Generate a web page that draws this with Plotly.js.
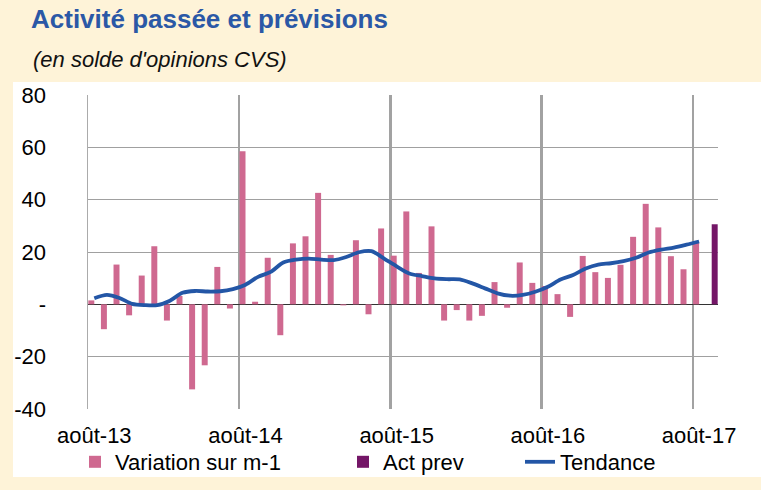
<!DOCTYPE html>
<html>
<head>
<meta charset="utf-8">
<script src="https://cdn.plot.ly/plotly-3.0.1.min.js"></script>
<style>html,body{margin:0;padding:0;background:#FEF3D8;}#chart{width:761px;height:490px;}</style>
</head>
<body>
<div id="chart"></div>
<script>
// Monthly categories from août-13 to sept-17 (index 0..49)
const tickLabels = ['août-13', 'août-14', 'août-15', 'août-16', 'août-17'];
const tickIndex = [0, 12, 24, 36, 48];
const yTickVals = [-40, -20, 0, 20, 40, 60, 80];
const yTickText = ['-40', '-20', '-', '20', '40', '60', '80'];

// Variation sur m-1 (août-13 .. août-17)
const variation = [1.5, -9.5, 15.2, -4.2, 11.0, 22.2, -6.2, 3.2, -32.5, -23.3, 14.3, -1.6,
  58.5, 1.0, 17.8, -11.8, 23.3, 26.0, 42.6, 18.9, -0.4, 24.5, -3.8, 29.0,
  18.6, 35.5, 12.0, 29.8, -6.2, -2.2, -6.2, -4.4, 8.5, -1.3, 16.0, 8.2,
  7.0, 3.9, -4.8, 18.5, 12.3, 10.1, 15.1, 25.8, 38.4, 29.4, 18.4, 13.4,
  23.5];
// Act prev (sept-17)
const actPrev = [30.6];
const actPrevIndex = [49];
// Tendance (août-13 .. août-17)
const tendance = [2.3, 3.6, 2.4, 0.2, -0.3, -0.3, 1.4, 4.4, 5.1, 4.9, 5.0, 5.8,
  7.5, 10.5, 12.4, 16.0, 17.1, 17.5, 17.1, 16.9, 18.1, 19.9, 20.3, 17.5,
  14.5, 11.8, 10.8, 9.9, 9.6, 9.5, 8.0, 6.1, 4.2, 3.3, 3.6, 4.8,
  6.7, 9.5, 11.2, 13.7, 15.2, 15.7, 16.5, 17.8, 19.8, 20.9, 21.7, 22.8,
  24.0];

const idx = variation.map((_, i) => i);
const FONT = 'Liberation Sans, Arial, sans-serif';

const traces = [
  {type: 'bar', name: 'Variation sur m-1', x: idx, y: variation, offsetgroup: 'a',
   marker: {color: '#CF6990', line: {width: 0}}, legend: 'legend'},
  {type: 'bar', name: 'Act prev', x: actPrevIndex, y: actPrev, offsetgroup: 'b',
   marker: {color: '#741667', line: {width: 0}}, legend: 'legend2'},
  {type: 'scatter', mode: 'lines', name: 'Tendance', x: idx, y: tendance,
   line: {color: '#2356A6', width: 3.8, shape: 'spline', smoothing: 0.8}, legend: 'legend3'}
];

// plot area: x 88..718, y 95..409
const L = 88, R = 718, T = 95, B = 409;
const W = R - L, H = B - T;
const px = v => (v - L) / W;
const py = v => (B - v) / H;

const legendBase = {orientation: 'h', yanchor: 'middle', xanchor: 'left',
  xref: 'container', yref: 'container', y: 1 - 462 / 490,
  bgcolor: 'rgba(0,0,0,0)', font: {family: FONT, size: 22, color: '#000'}};

const layout = {
  width: 761, height: 490,
  margin: {l: L, r: 761 - R, t: T, b: 490 - B, pad: 0},
  paper_bgcolor: '#FEF3D8',
  plot_bgcolor: '#FFFFFF',
  barmode: 'group', bargap: 0.05, bargroupgap: 0,
  showlegend: true,
  title: {text: 'Activité passée et prévisions', font: {family: FONT, size: 26, color: '#2B58A6', weight: 'bold'},
    xref: 'container', yref: 'container', x: 31 / 761, xanchor: 'left', y: 1 - 19 / 490, yanchor: 'middle'},
  annotations: [{text: "<i>(en solde d'opinions CVS)</i>", showarrow: false, xref: 'paper', yref: 'paper',
    x: px(31), xanchor: 'left', y: py(60), yanchor: 'middle', font: {family: FONT, size: 22, color: '#111'}}],
  shapes: [{type: 'rect', xref: 'paper', yref: 'paper', x0: px(13), x1: px(761), y0: py(477), y1: py(82),
    fillcolor: '#FFFFFF', line: {width: 0}, layer: 'below'}],
  xaxis: {range: [-0.5, 49.5], tickmode: 'array', tickvals: tickIndex, ticktext: tickLabels,
    showgrid: false, zeroline: false, showline: false, ticks: '', ticklabelstandoff: 11,
    automargin: false,
    tickfont: {family: FONT, size: 22, color: '#000'},
    minor: {tickmode: 'array', tickvals: tickIndex.slice(1).map(v => v - 0.5), showgrid: true,
      gridcolor: '#A2A2A2', gridwidth: 2.2, ticks: ''}},
  yaxis: {range: [-40, 80], tickmode: 'array', tickvals: yTickVals, ticktext: yTickText,
    showgrid: true, gridcolor: '#A0A0A0', gridwidth: 1, automargin: false,
    zeroline: true, zerolinecolor: '#333333', zerolinewidth: 1,
    showline: true, linecolor: '#ABABAB', linewidth: 1.5,
    ticks: '', ticklabelstandoff: 36,
    tickfont: {family: FONT, size: 22, color: '#000'}},
  legend: Object.assign({}, legendBase, {x: 75 / 761}),
  legend2: Object.assign({}, legendBase, {x: 343 / 761}),
  legend3: Object.assign({}, legendBase, {x: 520 / 761})
};

Plotly.newPlot('chart', traces, layout, {displayModeBar: false, staticPlot: true});
</script>
</body>
</html>
